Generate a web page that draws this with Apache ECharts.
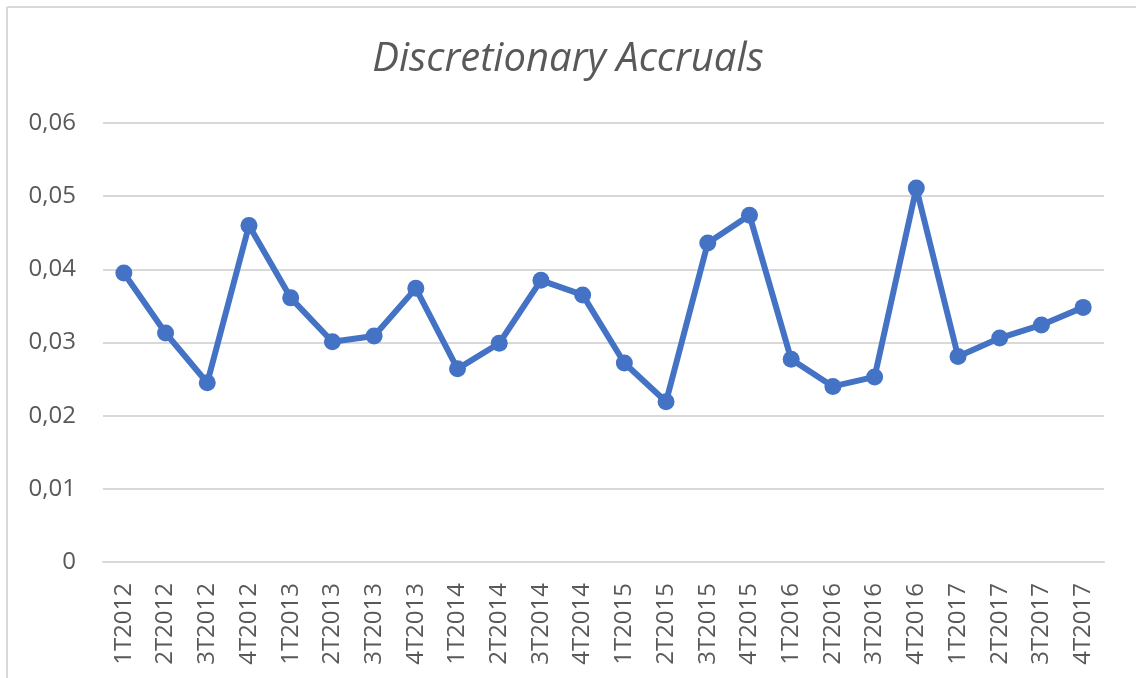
<!DOCTYPE html>
<html>
<head>
<meta charset="utf-8">
<script src="https://cdn.jsdelivr.net/npm/echarts@6/dist/echarts.min.js"></script>
<style>
html,body{margin:0;padding:0;background:#fff;}
#chart{width:1136px;height:678px;}
</style>
</head>
<body>
<div id="chart"></div>
<script>
const categories = ["1T2012","2T2012","3T2012","4T2012","1T2013","2T2013","3T2013","4T2013","1T2014","2T2014","3T2014","4T2014","1T2015","2T2015","3T2015","4T2015","1T2016","2T2016","3T2016","4T2016","1T2017","2T2017","3T2017","4T2017"];
const values = [0.0395,0.0313,0.0245,0.0460,0.0361,0.0301,0.0309,0.0374,0.0264,0.0299,0.0385,0.0365,0.0272,0.0219,0.0436,0.0474,0.0277,0.0240,0.0253,0.0511,0.0281,0.0306,0.0324,0.0348];
const yTicks = [0,0.01,0.02,0.03,0.04,0.05,0.06];
const title = "Discretionary Accruals";

const chart = echarts.init(document.getElementById('chart'));
chart.setOption({
  backgroundColor: '#fff',
  animation: false,
  title: {
    text: title,
    left: 'center',
    top: 35,
    textStyle: {fontFamily: 'Open Sans', fontStyle: 'italic', fontWeight: 'normal', fontSize: 40, color: '#595959'}
  },
  graphic: [
    {type: 'line', shape: {x1: 7, y1: 7, x2: 1136, y2: 7}, style: {stroke: '#d9d9d9', lineWidth: 2}},
    {type: 'line', shape: {x1: 7, y1: 7, x2: 7, y2: 678}, style: {stroke: '#d9d9d9', lineWidth: 2}}
  ],
  grid: {left: 103, right: 32, top: 123, bottom: 116},
  xAxis: {
    type: 'category',
    data: categories,
    boundaryGap: true,
    axisLine: {show: true, lineStyle: {color: '#d9d9d9', width: 2}},
    axisTick: {show: false},
    axisLabel: {rotate: 90, margin: 21, fontFamily: 'Open Sans', fontSize: 24, color: '#595959', interval: 0}
  },
  yAxis: {
    type: 'value',
    min: yTicks[0],
    max: yTicks[yTicks.length - 1],
    interval: 0.01,
    axisLine: {show: false},
    axisTick: {show: false},
    splitLine: {lineStyle: {color: '#d9d9d9', width: 2}},
    axisLabel: {
      margin: 27,
      fontFamily: 'Open Sans', fontSize: 24, color: '#595959',
      formatter: v => (v === 0 ? '0' : v.toFixed(2).replace('.', ','))
    }
  },
  series: [{
    type: 'line',
    data: values,
    symbol: 'circle',
    symbolSize: 17,
    lineStyle: {color: '#4472C4', width: 6},
    itemStyle: {color: '#4472C4'}
  }]
});
</script>
</body>
</html>
